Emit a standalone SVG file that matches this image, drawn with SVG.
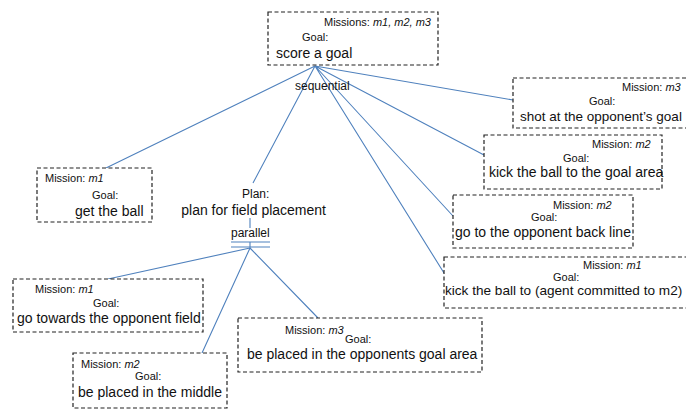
<svg xmlns="http://www.w3.org/2000/svg" width="686" height="411" viewBox="0 0 686 411">
<style>
.box{fill:#fff;stroke:#222;stroke-width:1.2;stroke-dasharray:4 2.5}
text{font-family:"Liberation Sans",Arial,sans-serif;fill:#111}
.s{font-size:11px}
.m{font-size:14px}
.l{font-size:12px}
.c{stroke:#4f81bd;stroke-width:1.1;fill:none}
</style>
<rect width="686" height="411" fill="#fff"/>
<g id="connectors">
<path class="c" d="M315 66L106 168M315 66L253 183M315 66L513 100M315 66L484 155M315 66L453 216M315 66L444 273"/>
<path class="c" d="M250 218L250 228M250 242L250 248M250 248L108 279M250 248L202 353M250 248L318 318"/>
<path class="c" d="M231 242H270M231 247H270"/>
</g>
<g id="n-score">
<rect class="box" x="268" y="12" width="170" height="53"/>
<text class="s" x="324" y="26">Missions: <tspan font-style="italic">m1, m2, m3</tspan></text>
<text class="s" x="302" y="41">Goal:</text>
<text class="m" x="276" y="58">score a goal</text>
</g>
<g id="n-sequential"><text class="l" x="295" y="90">sequential</text></g>
<g id="n-shot">
<rect class="box" x="513" y="78" width="180" height="50"/>
<text class="s" x="622" y="91">Mission: <tspan font-style="italic">m3</tspan></text>
<text class="s" x="589" y="105">Goal:</text>
<text class="m" x="520" y="121" style="font-size:13.5px">shot at the opponent’s goal</text>
</g>
<g id="n-kickarea">
<rect class="box" x="484" y="135" width="178" height="54"/>
<text class="s" x="592" y="148">Mission: <tspan font-style="italic">m2</tspan></text>
<text class="s" x="563" y="162">Goal:</text>
<text class="m" x="489" y="177">kick the ball to the goal area</text>
</g>
<g id="n-backline">
<rect class="box" x="453" y="195" width="180" height="53"/>
<text class="s" x="553" y="209">Mission: <tspan font-style="italic">m2</tspan></text>
<text class="s" x="531" y="221">Goal:</text>
<text class="m" x="455" y="237">go to the opponent back line</text>
</g>
<g id="n-kickto">
<rect class="box" x="444" y="257" width="250" height="51"/>
<text class="s" x="583" y="269">Mission: <tspan font-style="italic">m1</tspan></text>
<text class="s" x="553" y="281">Goal:</text>
<text class="m" x="445" y="295" style="font-size:13.6px">kick the ball to (agent committed to m2)</text>
</g>
<g id="n-getball">
<rect class="box" x="37" y="168" width="115" height="54"/>
<text class="s" x="45" y="182">Mission: <tspan font-style="italic">m1</tspan></text>
<text class="s" x="92" y="199">Goal:</text>
<text class="m" x="75" y="216">get the ball</text>
</g>
<g id="n-plan">
<text class="l" x="242" y="198">Plan:</text>
<text class="m" x="326" y="215" text-anchor="end">plan for field placement</text>
</g>
<g id="n-parallel"><text class="l" x="231" y="237">parallel</text></g>
<g id="n-towards">
<rect class="box" x="13" y="279" width="190" height="53"/>
<text class="s" x="35" y="293">Mission: <tspan font-style="italic">m1</tspan></text>
<text class="s" x="93" y="307">Goal:</text>
<text class="m" x="17" y="323">go towards the opponent field</text>
</g>
<g id="n-middle">
<rect class="box" x="73" y="353" width="154" height="55"/>
<text class="s" x="81" y="368">Mission: <tspan font-style="italic">m2</tspan></text>
<text class="s" x="135" y="380">Goal:</text>
<text class="m" x="78" y="397">be placed in the middle</text>
</g>
<g id="n-goalarea">
<rect class="box" x="238" y="318" width="244" height="54"/>
<text class="s" x="285" y="334">Mission: <tspan font-style="italic">m3</tspan></text>
<text class="s" x="345" y="343">Goal:</text>
<text class="m" x="247" y="359">be placed in the opponents goal area</text>
</g>
</svg>
